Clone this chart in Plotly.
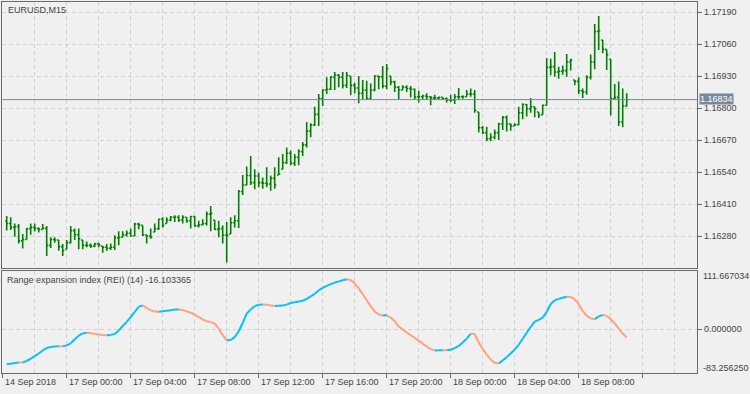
import plotly.graph_objects as go

# ---------------- data (EURUSD M15 bars) ----------------
bar_open = [1.16340,1.16331,1.16315,1.16318,1.16260,1.16266,1.16310,1.16315,1.16311,1.16307,
            1.16311,1.16242,1.16266,1.16264,1.16237,1.16226,1.16253,1.16302,1.16285,1.16264,
            1.16242,1.16242,1.16239,1.16248,1.16239,1.16234,1.16230,1.16234,1.16272,1.16275,
            1.16285,1.16291,1.16280,1.16329,1.16323,1.16285,1.16280,1.16296,1.16310,1.16348,
            1.16331,1.16345,1.16356,1.16356,1.16345,1.16356,1.16342,1.16359,1.16321,1.16326,
            1.16331,1.16369,1.16345,1.16307,1.16310,1.16283,1.16288,1.16334,1.16342,1.16461,
            1.16487,1.16526,1.16497,1.16524,1.16497,1.16494,1.16491,1.16514,1.16528,1.16551,
            1.16578,1.16616,1.16575,1.16600,1.16623,1.16650,1.16706,1.16731,1.16774,1.16838,
            1.16873,1.16876,1.16925,1.16933,1.16925,1.16892,1.16930,1.16892,1.16881,1.16860,
            1.16873,1.16838,1.16873,1.16930,1.16927,1.16889,1.16930,1.16906,1.16884,1.16873,
            1.16884,1.16879,1.16876,1.16846,1.16846,1.16849,1.16846,1.16841,1.16841,1.16843,
            1.16838,1.16833,1.16833,1.16846,1.16846,1.16846,1.16857,1.16857,1.16784,1.16720,
            1.16700,1.16675,1.16681,1.16700,1.16735,1.16762,1.16735,1.16727,1.16732,1.16781,
            1.16814,1.16797,1.16805,1.16784,1.16773,1.16811,1.16965,1.16968,1.16946,1.16949,
            1.16952,1.16987,1.16914,1.16908,1.16870,1.16865,1.16925,1.16987,1.17111,1.17076,
            1.17038,1.16998,1.16838,1.16843,1.16743,1.16808]
bar_high = [1.16361,1.16356,1.16331,1.16329,1.16288,1.16313,1.16331,1.16331,1.16315,1.16329,
            1.16321,1.16275,1.16275,1.16264,1.16248,1.16264,1.16321,1.16310,1.16310,1.16264,
            1.16258,1.16250,1.16253,1.16253,1.16239,1.16248,1.16250,1.16283,1.16299,1.16299,
            1.16302,1.16310,1.16334,1.16334,1.16323,1.16285,1.16310,1.16331,1.16350,1.16356,
            1.16356,1.16361,1.16364,1.16364,1.16364,1.16356,1.16361,1.16361,1.16342,1.16348,
            1.16380,1.16402,1.16345,1.16342,1.16323,1.16337,1.16356,1.16364,1.16467,1.16528,
            1.16562,1.16605,1.16551,1.16537,1.16518,1.16559,1.16526,1.16559,1.16600,1.16613,
            1.16640,1.16627,1.16613,1.16632,1.16662,1.16743,1.16738,1.16805,1.16857,1.16876,
            1.16925,1.16930,1.16946,1.16938,1.16946,1.16946,1.16930,1.16903,1.16930,1.16914,
            1.16911,1.16900,1.16933,1.16930,1.16971,1.16979,1.16930,1.16911,1.16889,1.16892,
            1.16892,1.16889,1.16879,1.16870,1.16854,1.16860,1.16849,1.16854,1.16846,1.16843,
            1.16843,1.16854,1.16857,1.16881,1.16852,1.16873,1.16879,1.16873,1.16784,1.16727,
            1.16724,1.16697,1.16713,1.16740,1.16768,1.16770,1.16738,1.16738,1.16805,1.16819,
            1.16816,1.16841,1.16805,1.16784,1.16814,1.17003,1.17000,1.17027,1.16968,1.16973,
            1.17019,1.17000,1.16914,1.16925,1.16879,1.16933,1.17017,1.17141,1.17174,1.17076,
            1.17038,1.16998,1.16898,1.16908,1.16879,1.16860]
bar_low = [1.16302,1.16304,1.16277,1.16250,1.16229,1.16266,1.16285,1.16298,1.16294,1.16307,
           1.16199,1.16231,1.16253,1.16220,1.16199,1.16226,1.16250,1.16264,1.16226,1.16226,
           1.16234,1.16231,1.16234,1.16234,1.16212,1.16220,1.16223,1.16223,1.16242,1.16275,
           1.16277,1.16277,1.16280,1.16307,1.16280,1.16250,1.16269,1.16296,1.16304,1.16315,
           1.16331,1.16340,1.16337,1.16337,1.16331,1.16334,1.16310,1.16318,1.16315,1.16323,
           1.16323,1.16299,1.16304,1.16275,1.16250,1.16172,1.16288,1.16315,1.16313,1.16447,
           1.16486,1.16487,1.16470,1.16478,1.16472,1.16478,1.16464,1.16472,1.16528,1.16551,
           1.16573,1.16567,1.16564,1.16567,1.16605,1.16640,1.16681,1.16727,1.16727,1.16808,
           1.16857,1.16873,1.16873,1.16884,1.16879,1.16881,1.16852,1.16860,1.16819,1.16833,
           1.16833,1.16835,1.16868,1.16876,1.16879,1.16876,1.16892,1.16865,1.16835,1.16873,
           1.16865,1.16843,1.16835,1.16822,1.16833,1.16833,1.16811,1.16833,1.16833,1.16833,
           1.16822,1.16824,1.16816,1.16835,1.16838,1.16846,1.16846,1.16781,1.16700,1.16694,
           1.16665,1.16665,1.16673,1.16670,1.16711,1.16705,1.16708,1.16727,1.16730,1.16754,
           1.16765,1.16781,1.16762,1.16759,1.16773,1.16811,1.16933,1.16927,1.16919,1.16935,
           1.16927,1.16952,1.16892,1.16857,1.16841,1.16854,1.16916,1.16957,1.17036,1.17022,
           1.16954,1.16770,1.16835,1.16727,1.16722,1.16805]
bar_close = [1.16331,1.16315,1.16318,1.16260,1.16266,1.16310,1.16315,1.16311,1.16307,1.16311,
             1.16242,1.16266,1.16264,1.16237,1.16220,1.16253,1.16302,1.16285,1.16269,1.16242,
             1.16242,1.16239,1.16248,1.16243,1.16234,1.16230,1.16234,1.16272,1.16275,1.16285,
             1.16291,1.16280,1.16329,1.16325,1.16285,1.16280,1.16275,1.16310,1.16348,1.16323,
             1.16345,1.16356,1.16356,1.16345,1.16356,1.16342,1.16359,1.16321,1.16326,1.16331,
             1.16369,1.16372,1.16307,1.16310,1.16283,1.16283,1.16334,1.16342,1.16461,1.16487,
             1.16526,1.16497,1.16524,1.16497,1.16494,1.16491,1.16514,1.16487,1.16532,1.16578,
             1.16616,1.16575,1.16600,1.16623,1.16650,1.16706,1.16731,1.16774,1.16838,1.16873,
             1.16876,1.16925,1.16933,1.16925,1.16892,1.16933,1.16892,1.16881,1.16860,1.16873,
             1.16838,1.16873,1.16930,1.16927,1.16889,1.16960,1.16906,1.16884,1.16873,1.16884,
             1.16879,1.16876,1.16846,1.16846,1.16849,1.16846,1.16841,1.16841,1.16843,1.16838,
             1.16833,1.16833,1.16846,1.16846,1.16846,1.16857,1.16857,1.16790,1.16720,1.16700,
             1.16675,1.16681,1.16700,1.16735,1.16762,1.16735,1.16727,1.16732,1.16781,1.16814,
             1.16797,1.16805,1.16797,1.16770,1.16811,1.16965,1.16968,1.16946,1.16949,1.16952,
             1.16987,1.16995,1.16908,1.16870,1.16865,1.16925,1.16987,1.17111,1.17114,1.17038,
             1.17017,1.16838,1.16843,1.16743,1.16808,1.16834]

# Range expansion index (REI, 14) values per bar
rei = [-66.9,-66.3,-64.8,-63.6,-63.8,-60.6,-56.6,-51.5,-46.6,-40.8,
       -36.2,-34.0,-33.2,-32.6,-32.8,-31.2,-27.3,-19.3,-12.4,-8.2,
       -6.7,-7.8,-9.0,-10.1,-11.0,-11.8,-11.0,-9.2,-2.7,6.1,
       13.7,22.8,33.0,42.8,45.5,40.4,35.9,33.6,33.2,34.0,
       35.0,36.2,37.3,37.6,36.6,33.9,31.3,28.0,23.0,18.8,
       15.0,13.4,10.4,1.0,-11.5,-21.3,-20.8,-15.4,-4.1,11.8,
       29.6,37.6,43.9,46.6,47.2,46.8,45.3,44.3,44.5,45.3,
       46.8,49.9,51.5,52.8,54.2,57.8,62.4,67.4,73.9,78.7,
       82.5,85.9,89.0,91.3,93.3,95.2,93.7,87.6,78.0,66.6,
       55.1,43.8,33.6,28.4,26.2,26.4,22.2,15.2,4.9,-1.0,
       -6.4,-11.7,-16.8,-21.8,-27.6,-32.8,-38.5,-40.6,-40.4,-40.3,
       -40.5,-39.4,-36.3,-32.2,-25.4,-18.2,-8.9,-9.3,-25.3,-38.0,
       -48.7,-57.9,-64.5,-65.5,-59.8,-53.5,-46.6,-38.6,-29.9,-18.5,
       -7.0,4.5,14.2,17.8,22.0,33.3,48.0,55.2,57.8,60.0,
       61.9,61.5,56.7,47.6,34.9,25.2,20.4,18.9,24.4,27.1,
       25.5,18.8,11.1,1.1,-8.5,-16.1]

price_ticks = [1.16280, 1.16410, 1.16540, 1.16670, 1.16800, 1.16930, 1.17060, 1.17190]
price_tick_labels = ["1.16280", "1.16410", "1.16540", "1.16670", "1.16800", "1.16930", "1.17060", "1.17190"]
current_price = 1.16834
current_price_label = "1.16834"

time_label_bars = [-1, 15, 31, 47, 63, 79, 95, 111, 127, 143]
time_labels = ["14 Sep 2018", "17 Sep 00:00", "17 Sep 04:00", "17 Sep 08:00", "17 Sep 12:00",
               "17 Sep 16:00", "17 Sep 20:00", "18 Sep 00:00", "18 Sep 04:00", "18 Sep 08:00"]

rei_max = 111.667034
rei_min = -83.256250
rei_max_label = "111.667034"
rei_min_label = "-83.256250"
rei_zero_label = "0.000000"
symbol_title = "EURUSD,M15"
rei_title = "Range expansion index (REI) (14) -16.103365"

# ---------------- styling ----------------
W, H = 750, 394
BG = "#f0f0f0"
FRAME = "#6a6a6a"
GRID = "#d2d2d2"
TXT = "#444444"
FONT = "Liberation Sans, Arial, sans-serif"
GREEN = "#008000"
UP = "#00bfff"
DOWN = "#ffa07a"

def px_x(p):
    return p / W

def px_y(p):
    return 1 - p / H

x_left, x_right = 2.3, 697.3
bar_x0, bar_step = 6.7, 4.0
x_range = [(x_left - bar_x0) / bar_step, (x_right - bar_x0) / bar_step]
main_top, main_bot = 2.3, 267.7
ind_top, ind_bot = 270.7, 372.7
price_per_px = 0.0013 / 32.0
y_main_range = [1.17190 - (main_bot - 12) * price_per_px, 1.17190 + (12 - main_top) * price_per_px]

bars_x = list(range(len(bar_close)))

fig = go.Figure()
fig.add_trace(go.Ohlc(
    x=bars_x, open=bar_open, high=bar_high, low=bar_low, close=bar_close,
    increasing=dict(line=dict(color=GREEN, width=1.6)),
    decreasing=dict(line=dict(color=GREEN, width=1.6)),
    tickwidth=0.4, xaxis="x", yaxis="y", hoverinfo="skip", showlegend=False))

# REI line coloured by direction
seg = {UP: ([], []), DOWN: ([], [])}
for i in range(1, len(rei)):
    c = UP if rei[i] > rei[i - 1] else DOWN
    seg[c][0].extend([bars_x[i - 1], bars_x[i], None])
    seg[c][1].extend([rei[i - 1], rei[i], None])
for c in (UP, DOWN):
    fig.add_trace(go.Scatter(x=seg[c][0], y=seg[c][1], mode="lines",
                             line=dict(color=c, width=2), xaxis="x2", yaxis="y2",
                             hoverinfo="skip", showlegend=False, connectgaps=False))

axis_common = dict(showline=True, mirror=True, linecolor=FRAME, linewidth=1, zeroline=False)

fig.update_layout(
    width=W, height=H, margin=dict(l=0, r=0, t=0, b=0),
    paper_bgcolor=BG, plot_bgcolor=BG, showlegend=False,
    font=dict(family=FONT, size=9, color=TXT),
    xaxis=dict(domain=[px_x(x_left), px_x(x_right)], range=x_range, anchor="y",
               showticklabels=False, ticks="", showgrid=True, gridcolor=GRID, griddash="4px,3px",
               tickmode="linear", tick0=15, dtick=16,
               minor=dict(showgrid=True, gridcolor=GRID, griddash="4px,3px", tickmode="linear", tick0=7, dtick=8),
               rangeslider=dict(visible=False), **axis_common),
    yaxis=dict(domain=[px_y(main_bot), px_y(main_top)], range=y_main_range, anchor="x", side="right",
               tickmode="array", tickvals=price_ticks, ticktext=price_tick_labels,
               ticks="outside", ticklen=4, tickcolor=FRAME, showgrid=True, gridcolor=GRID,
               griddash="4px,3px", tickfont=dict(family=FONT, size=9, color=TXT), **axis_common),
    xaxis2=dict(domain=[px_x(x_left), px_x(x_right)], range=x_range, anchor="y2",
                showticklabels=False, ticks="outside", ticklen=4, tickcolor=FRAME,
                tickmode="linear", tick0=15, dtick=16,
                showgrid=True, gridcolor=GRID, griddash="4px,3px",
                minor=dict(showgrid=True, gridcolor=GRID, griddash="4px,3px", tickmode="linear", tick0=7, dtick=8),
                **axis_common),
    yaxis2=dict(domain=[px_y(ind_bot), px_y(ind_top)], range=[rei_min, rei_max], anchor="x2", side="right",
                tickmode="array", tickvals=[0], ticktext=[rei_zero_label],
                ticks="outside", ticklen=4, tickcolor=FRAME, showgrid=True, gridcolor=GRID,
                griddash="4px,3px", tickfont=dict(family=FONT, size=9, color=TXT), **axis_common),
)

# current price line + label
fig.add_shape(type="line", xref="x domain", yref="y", x0=0, x1=1, y0=current_price, y1=current_price,
              line=dict(color="#778899", width=1), layer="above")

ann = []
ann.append(dict(x=px_x(699), y=current_price, xref="paper", yref="y", text=current_price_label,
                showarrow=False, xanchor="left", yanchor="middle", bgcolor="#778899",
                borderpad=0, yshift=1, font=dict(family=FONT, size=9, color="#ffffff")))
ann.append(dict(x=px_x(6), y=px_y(9.5), xref="paper", yref="paper", text=symbol_title,
                showarrow=False, xanchor="left", yanchor="middle", font=dict(family=FONT, size=9, color=TXT)))
ann.append(dict(x=px_x(5), y=px_y(280), xref="paper", yref="paper", text=rei_title,
                showarrow=False, xanchor="left", yanchor="middle", font=dict(family=FONT, size=9, color=TXT)))
ann.append(dict(x=px_x(701), y=px_y(276), xref="paper", yref="paper", text=rei_max_label,
                showarrow=False, xanchor="left", yanchor="middle", font=dict(family=FONT, size=9, color=TXT)))
ann.append(dict(x=px_x(701), y=px_y(368), xref="paper", yref="paper", text=rei_min_label,
                showarrow=False, xanchor="left", yanchor="middle", font=dict(family=FONT, size=9, color=TXT)))
for b, t in zip(time_label_bars, time_labels):
    ann.append(dict(x=b, y=px_y(382), xref="x2", yref="paper", text=t, showarrow=False,
                    xanchor="left", yanchor="middle", xshift=0,
                    font=dict(family=FONT, size=9, color=TXT)))
fig.update_layout(annotations=ann)

fig.write_html("out.html")
